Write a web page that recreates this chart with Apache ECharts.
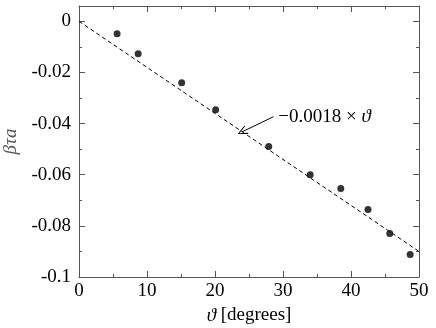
<!DOCTYPE html>
<html>
<head>
<meta charset="utf-8">
<script src="https://cdn.jsdelivr.net/npm/echarts@6/dist/echarts.min.js"></script>
<style>
  html, body { margin: 0; padding: 0; background: #fff; }
  #chart { width: 436px; height: 328px; }
</style>
</head>
<body>
<div id="chart"></div>
<script>
// measured points (theta in degrees, beta*tau*a)
const theta = [5.6, 8.7, 15.1, 20.1, 27.9, 34.0, 38.5, 42.5, 45.7, 48.7];
const btaValues = [-0.0049, -0.0127, -0.0240, -0.0346, -0.0490, -0.0600, -0.0654, -0.0736, -0.0830, -0.0912];

// linear fit -0.0018 * theta
const fitSlope = -0.0018;
const fitX = [0, 50];

// annotation
const annoText = [29.3, -0.0373];
const annoArrowFrom = [28.6, -0.0373];
const annoArrowTo = [24.0, -0.0432];

const serif = 'Liberation Serif';
const axisColor = '#555';

let chart = echarts.init(document.getElementById('chart'));

const option = {
    animation: false,
    grid: { left: 79, right: 17, top: 6, bottom: 51, containLabel: false, outerBoundsMode: 'none' },
    xAxis: [
        {
            type: 'value',
            min: 0, max: 50, interval: 10,
            name: '{i|ϑ} [degrees]',
            nameLocation: 'middle',
            nameGap: 29,
            nameTextStyle: {
                fontFamily: serif, fontSize: 19, color: '#000',
                rich: { i: { fontFamily: serif, fontStyle: 'italic', fontSize: 19 } }
            },
            axisLine: { show: true, onZero: false, lineStyle: { color: axisColor, width: 1 } },
            axisTick: { inside: true, length: 6, lineStyle: { color: axisColor } },
            minorTick: { show: true, splitNumber: 2, length: 3, lineStyle: { color: axisColor } },
            axisLabel: { fontFamily: serif, fontSize: 19, color: '#000', margin: 5 },
            splitLine: { show: false }
        },
        {
            type: 'value', position: 'top',
            min: 0, max: 50, interval: 10,
            axisLine: { show: true, onZero: false, lineStyle: { color: axisColor, width: 1 } },
            axisTick: { inside: true, length: 6, lineStyle: { color: axisColor } },
            minorTick: { show: true, splitNumber: 2, length: 3, lineStyle: { color: axisColor } },
            axisLabel: { show: false },
            splitLine: { show: false }
        }
    ],
    yAxis: [
        {
            type: 'value',
            min: -0.1, max: 0.006, interval: 0.02,
            name: 'βτa',
            nameLocation: 'middle',
            nameGap: 55,
            nameTextStyle: { fontFamily: serif, fontStyle: 'italic', fontSize: 19, color: '#555' },
            axisLine: { show: true, onZero: false, lineStyle: { color: axisColor, width: 1 } },
            axisTick: { inside: true, length: 6, lineStyle: { color: axisColor } },
            minorTick: { show: true, splitNumber: 2, length: 3, lineStyle: { color: axisColor } },
            axisLabel: {
                fontFamily: serif, fontSize: 19, color: '#000', margin: 8,
                formatter: function (v) {
                    let r = Math.round(v * 100) / 100;
                    return r === 0 ? '0' : String(r);
                }
            },
            splitLine: { show: false }
        },
        {
            type: 'value', position: 'right',
            min: -0.1, max: 0.006, interval: 0.02,
            axisLine: { show: true, onZero: false, lineStyle: { color: axisColor, width: 1 } },
            axisTick: { inside: true, length: 6, lineStyle: { color: axisColor } },
            minorTick: { show: true, splitNumber: 2, length: 3, lineStyle: { color: axisColor } },
            axisLabel: { show: false },
            splitLine: { show: false }
        }
    ],
    series: [
        {
            name: 'fit',
            type: 'line',
            data: fitX.map(function (x) { return [x, fitSlope * x]; }),
            showSymbol: false,
            silent: true,
            lineStyle: { color: '#000', width: 1, type: [4, 3] },
            markLine: {
                silent: true,
                symbol: ['none', 'none'],
                label: { show: false },
                lineStyle: { color: '#000', width: 1, type: 'solid' },
                data: [[
                    { coord: annoArrowFrom, symbol: 'none' },
                    { coord: annoArrowTo, symbol: 'path://M5,0L10,10L9,10.6L5,2L1,10.6L0,10Z', symbolSize: [9, 10] }
                ]]
            },
            markPoint: {
                silent: true,
                symbol: 'circle',
                symbolSize: 0,
                data: [{ coord: annoText }],
                label: {
                    show: true,
                    position: 'right',
                    distance: 0,
                    formatter: '−0.0018 × {i|ϑ}',
                    fontFamily: serif, fontSize: 19, color: '#000',
                    rich: { i: { fontFamily: serif, fontStyle: 'italic', fontSize: 19 } }
                }
            }
        },
        {
            name: 'data',
            type: 'scatter',
            data: theta.map(function (x, i) { return [x, btaValues[i]]; }),
            symbol: 'circle',
            symbolSize: 7,
            itemStyle: { color: '#000' }
        }
    ]
};

chart.setOption(option);
window.addEventListener('resize', function () {
    chart.resize();
});
</script>
</body>
</html>
